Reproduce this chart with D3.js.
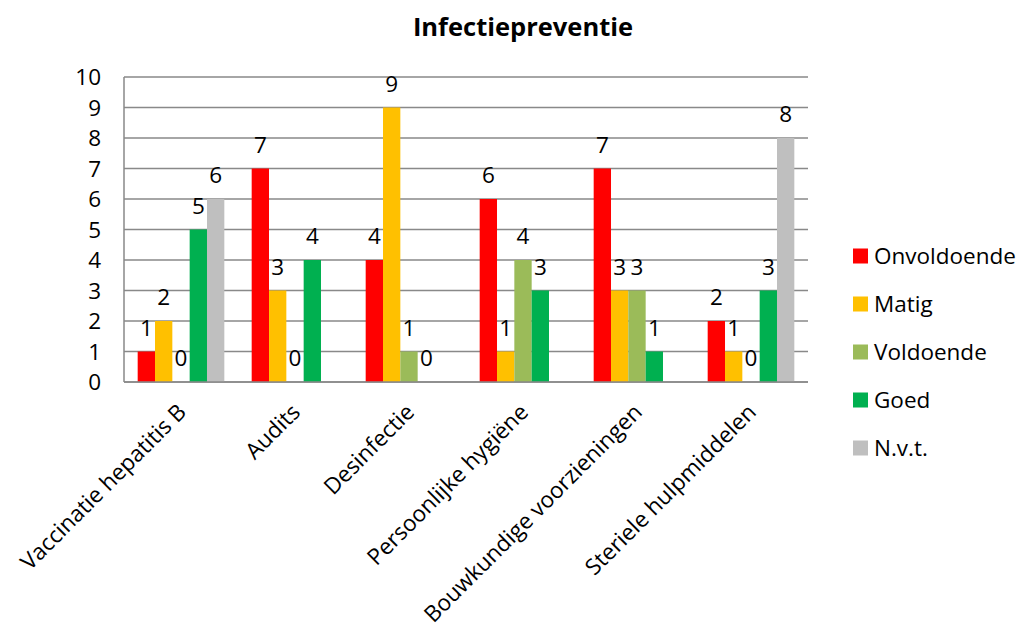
<!DOCTYPE html>
<html>
<head>
<meta charset="utf-8">
<script src="https://cdn.jsdelivr.net/npm/d3@7"></script>
<style>
  body { margin: 0; background: #fff; }
  svg { font-family: "Open Sans", sans-serif; }
</style>
</head>
<body>
<div id="chart"></div>
<script>
// chart data
var categories = ["Vaccinatie hepatitis B", "Audits", "Desinfectie", "Persoonlijke hygiëne", "Bouwkundige voorzieningen", "Steriele hulpmiddelen"];
var seriesNames = ["Onvoldoende", "Matig", "Voldoende", "Goed", "N.v.t."];
var onvoldoende = [1, 7, 4, 6, 7, 2];
var matig = [2, 3, 9, 1, 3, 1];
var voldoende = [0, 0, 1, 4, 3, 0];
var goed = [5, 4, 0, 3, 1, 3];
var nvt = [6, null, null, null, null, 8];
var yTicks = [0, 1, 2, 3, 4, 5, 6, 7, 8, 9, 10];
var colors = ["#ff0000", "#ffc000", "#9bbb59", "#00b050", "#bfbfbf"];

var values = [onvoldoende, matig, voldoende, goed, nvt];

const width = 1028;
const height = 631;
const margin = { top: 77, left: 124, right: 220, bottom: 249 };

var svg = d3.select('#chart')
  .append('svg')
  .attr('width', width)
  .attr('height', height);

// title
svg.append('text')
  .attr('x', 523)
  .attr('y', 36)
  .attr('text-anchor', 'middle')
  .attr('font-size', 25.5)
  .attr('font-weight', 'bold')
  .text('Infectiepreventie');

var x0 = d3.scaleBand()
  .domain(categories)
  .range([margin.left, width - margin.right])
  .paddingInner(0.24)
  .paddingOuter(0.12);

var x1 = d3.scaleBand()
  .domain(seriesNames)
  .range([0, x0.bandwidth()]);

var y = d3.scaleLinear()
  .domain([0, 10])
  .range([height - margin.bottom, margin.top]);

// gridlines
svg.append('g')
  .selectAll('line')
  .data(yTicks)
  .enter()
  .append('line')
  .attr('x1', margin.left)
  .attr('x2', width - margin.right)
  .attr('y1', d => y(d))
  .attr('y2', d => y(d))
  .attr('stroke', '#898989')
  .attr('stroke-width', 1.5);

// left axis line
svg.append('line')
  .attr('x1', margin.left)
  .attr('x2', margin.left)
  .attr('y1', y(10))
  .attr('y2', y(0))
  .attr('stroke', '#898989')
  .attr('stroke-width', 1.5);

// y tick labels
svg.append('g')
  .selectAll('text')
  .data(yTicks)
  .enter()
  .append('text')
  .attr('x', margin.left - 23)
  .attr('y', d => y(d))
  .attr('dy', '0.36em')
  .attr('text-anchor', 'end')
  .attr('font-size', 22.5)
  .text(d => d);

// bars + labels
var groups = svg.append('g')
  .selectAll('g')
  .data(categories)
  .enter()
  .append('g')
  .attr('transform', d => 'translate(' + x0(d) + ',0)');

var cells = groups.selectAll('g')
  .data((c, i) => seriesNames.map((s, j) => ({ series: s, value: values[j][i], color: colors[j] })))
  .enter()
  .append('g')
  .filter(d => d.value !== null);

cells.append('rect')
  .attr('x', d => x1(d.series))
  .attr('width', x1.bandwidth())
  .attr('y', d => y(d.value))
  .attr('height', d => y(0) - y(d.value))
  .attr('fill', d => d.color);

cells.append('text')
  .attr('x', d => x1(d.series) + x1.bandwidth() / 2)
  .attr('y', d => y(d.value) - 16)
  .attr('text-anchor', 'middle')
  .attr('font-size', 22.5)
  .text(d => d.value);

// baseline on top of bars
svg.append('line')
  .attr('x1', margin.left)
  .attr('x2', width - margin.right)
  .attr('y1', y(0))
  .attr('y2', y(0))
  .attr('stroke', '#898989')
  .attr('stroke-width', 1.5);

// category labels
svg.append('g')
  .selectAll('text')
  .data(categories)
  .enter()
  .append('text')
  .attr('transform', d => 'translate(' + (x0(d) + x0.bandwidth() / 2 + 1) + ',' + (y(0) + 26) + ') rotate(-45)')
  .attr('text-anchor', 'end')
  .attr('dy', '0.35em')
  .attr('font-size', 22.5)
  .text(d => d);

// legend
var legend = svg.append('g')
  .selectAll('g')
  .data(seriesNames)
  .enter()
  .append('g')
  .attr('transform', (d, i) => 'translate(853,' + (256 + i * 48) + ')');

legend.append('rect')
  .attr('x', 0)
  .attr('y', -7.5)
  .attr('width', 15)
  .attr('height', 15)
  .attr('fill', (d, i) => colors[i]);

legend.append('text')
  .attr('x', 21)
  .attr('dy', '0.36em')
  .attr('font-size', 22.5)
  .text(d => d);
</script>
</body>
</html>
